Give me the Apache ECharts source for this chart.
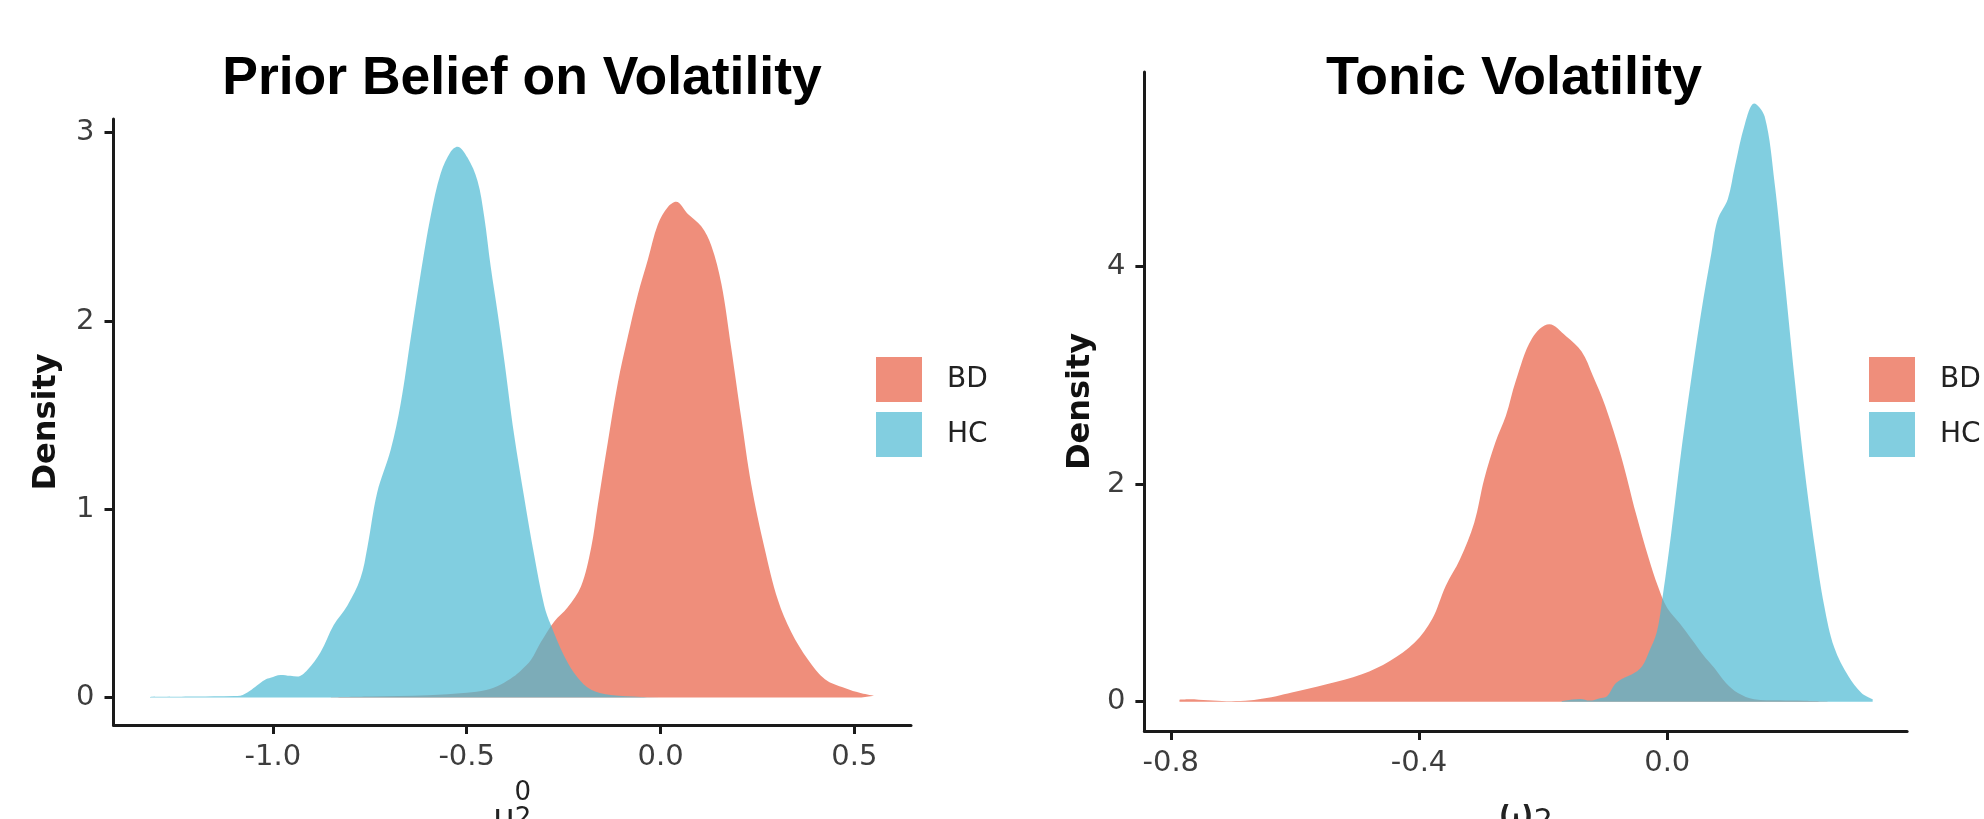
<!DOCTYPE html>
<html>
<head>
<meta charset="utf-8">
<script src="https://cdn.jsdelivr.net/npm/echarts@6/dist/echarts.min.js"></script>
<style>
  html, body { margin: 0; padding: 0; background: #ffffff; }
  #chart { width: 1984px; height: 819px; }
</style>
</head>
<body>
<div id="chart"></div>
<script>
// ---------- Data ----------
const groups = ['BD', 'HC'];
const titles = ['Prior Belief on Volatility', 'Tonic Volatility'];

// Panel 1: Prior Belief on Volatility (mu_2^0)
const priorX_BD = [-0.85, -0.75, -0.6, -0.5, -0.45, -0.412, -0.38, -0.36, -0.334, -0.309, -0.274, -0.24, -0.205, -0.179, -0.162, -0.136, -0.11, -0.0845, -0.0587, -0.0328, -0.007, 0.019, 0.04, 0.0705, 0.105, 0.131, 0.157, 0.182, 0.208, 0.234, 0.268, 0.303, 0.337, 0.381, 0.424, 0.475, 0.518, 0.551];
const priorY_BD = [0.001, 0.005, 0.012, 0.025, 0.04, 0.069, 0.11, 0.144, 0.2, 0.293, 0.404, 0.478, 0.591, 0.796, 1.02, 1.356, 1.673, 1.916, 2.14, 2.326, 2.513, 2.606, 2.634, 2.569, 2.503, 2.4, 2.196, 1.86, 1.487, 1.132, 0.796, 0.516, 0.348, 0.199, 0.097, 0.05, 0.022, 0.009];
const priorX_HC = [-1.317, -1.2, -1.1, -1.084, -1.06, -1.041, -1.02, -1.006, -0.98, -0.955, -0.937, -0.911, -0.877, -0.843, -0.808, -0.774, -0.756, -0.731, -0.696, -0.67, -0.644, -0.619, -0.593, -0.567, -0.541, -0.524, -0.498, -0.472, -0.455, -0.438, -0.42, -0.403, -0.378, -0.352, -0.326, -0.3, -0.283, -0.248, -0.214, -0.179, -0.128, -0.05, 0.0];
const priorY_HC = [0.003, 0.005, 0.008, 0.01, 0.035, 0.064, 0.095, 0.105, 0.12, 0.115, 0.111, 0.146, 0.24, 0.385, 0.488, 0.633, 0.8, 1.088, 1.316, 1.564, 1.915, 2.247, 2.557, 2.785, 2.9, 2.926, 2.868, 2.744, 2.557, 2.288, 2.04, 1.79, 1.4, 1.067, 0.757, 0.488, 0.386, 0.218, 0.106, 0.041, 0.013, 0.003, 0.001];

// Panel 2: Tonic Volatility (omega_2)
const tonicX_BD = [-0.786, -0.77, -0.74, -0.71, -0.68, -0.661, -0.63, -0.605, -0.549, -0.492, -0.447, -0.407, -0.379, -0.357, -0.334, -0.311, -0.295, -0.277, -0.26, -0.244, -0.218, -0.19, -0.163, -0.138, -0.12, -0.1, -0.074, -0.05, -0.03, -0.015, 0.0, 0.02, 0.039, 0.058, 0.076, 0.095, 0.114, 0.14, 0.18, 0.22, 0.26];
const tonicY_BD = [0.018, 0.022, 0.012, 0.004, 0.008, 0.02, 0.05, 0.083, 0.159, 0.251, 0.374, 0.543, 0.757, 1.064, 1.309, 1.646, 2.045, 2.383, 2.628, 2.95, 3.34, 3.47, 3.36, 3.22, 3.0, 2.72, 2.25, 1.72, 1.32, 1.06, 0.86, 0.72, 0.576, 0.43, 0.309, 0.17, 0.08, 0.023, 0.012, 0.008, 0.002];
const tonicX_HC = [-0.17, -0.153, -0.14, -0.125, -0.11, -0.097, -0.085, -0.074, -0.052, -0.04, -0.03, -0.017, -0.009, 0.006, 0.0223, 0.039, 0.055, 0.071, 0.081, 0.0975, 0.109, 0.125, 0.14, 0.157, 0.173, 0.189, 0.205, 0.222, 0.238, 0.253, 0.269, 0.292, 0.313, 0.331];
const tonicY_HC = [0.005, 0.02, 0.025, 0.01, 0.03, 0.05, 0.156, 0.205, 0.267, 0.33, 0.45, 0.635, 0.9, 1.53, 2.29, 2.98, 3.59, 4.12, 4.43, 4.62, 4.92, 5.31, 5.5, 5.38, 4.77, 3.89, 2.98, 2.1, 1.415, 0.88, 0.5, 0.233, 0.08, 0.023];

// Tick values
const priorXTicks = [-1.0, -0.5, 0.0, 0.5];
const priorYTicks = [0, 1, 2, 3];
const tonicXTicks = [-0.8, -0.4, 0.0];
const tonicYTicks = [0, 2, 4];

// ---------- Styling ----------
const BD_FILL = '#EF8E7B';
const HC_BASE = '#4CB9D3';
const HC_LEGEND = '#82CEE0';
const AXIS_COLOR = '#1a1a1a';
const TICK_TEXT = '#3d3d3d';
const CHART_FONT = 'DejaVu Sans';

function zip(xs, ys) { return xs.map((x, i) => [x, ys[i]]); }

function densitySeries(name, xi, yi, data, fill, opacity) {
  return {
    type: 'line', name: name, xAxisIndex: xi, yAxisIndex: yi,
    data: data, smooth: 0.35,
    showSymbol: false, symbol: 'none', silent: true,
    lineStyle: { width: 0, color: fill },
    itemStyle: { color: fill },
    areaStyle: { color: fill, opacity: opacity },
    animation: false
  };
}

function xAxisDef(gi, min, max, ticks, nameObj) {
  return Object.assign({
    type: 'value', gridIndex: gi, min: min, max: max,
    splitLine: { show: false },
    axisLine: { show: true, onZero: false, lineStyle: { color: AXIS_COLOR, width: 3 } },
    axisTick: { show: true, length: 9, customValues: ticks, lineStyle: { color: AXIS_COLOR, width: 3 } },
    axisLabel: { customValues: ticks, formatter: v => Number(v).toFixed(1), margin: 18,
      color: TICK_TEXT, fontSize: 29, fontFamily: CHART_FONT },
    nameLocation: 'middle'
  }, nameObj);
}

function yAxisDef(gi, min, max, ticks, gap) {
  return {
    type: 'value', gridIndex: gi, min: min, max: max,
    splitLine: { show: false },
    axisLine: { show: true, onZero: false, lineStyle: { color: AXIS_COLOR, width: 3 } },
    axisTick: { show: true, length: 9, customValues: ticks, lineStyle: { color: AXIS_COLOR, width: 3 } },
    axisLabel: { customValues: ticks, formatter: v => String(v), margin: 19,
      color: TICK_TEXT, fontSize: 29, fontFamily: CHART_FONT },
    name: 'Density', nameLocation: 'middle', nameRotate: 90, nameGap: gap,
    nameTextStyle: { fontSize: 32, fontWeight: 'bold', fontFamily: CHART_FONT, color: '#111' }
  };
}

function legendDef(left) {
  return {
    orient: 'vertical', left: left, top: 357, padding: 0,
    itemWidth: 46, itemHeight: 45, itemGap: 10, icon: 'rect',
    selectedMode: false,
    data: [
      { name: groups[0], itemStyle: { color: BD_FILL } },
      { name: groups[1], itemStyle: { color: HC_LEGEND } }
    ],
    textStyle: { fontSize: 28, fontFamily: CHART_FONT, color: '#222', padding: [0, 0, 0, 20] }
  };
}

const chart = echarts.init(document.getElementById('chart'), null, { renderer: 'canvas' });

chart.setOption({
  backgroundColor: '#ffffff',
  animation: false,
  title: [
    { text: titles[0], left: 517, top: 47, textAlign: 'center',
      textStyle: { fontFamily: 'Liberation Sans', fontWeight: 'bold', fontSize: 53.5, color: '#000', lineHeight: 54 } },
    { text: titles[1], left: 1509, top: 47, textAlign: 'center',
      textStyle: { fontFamily: 'Liberation Sans', fontWeight: 'bold', fontSize: 54, color: '#000', lineHeight: 54 } }
  ],
  legend: [legendDef(876), legendDef(1869)],
  grid: [
    { left: 113.5, top: 119, width: 797.5, height: 606, outerBoundsMode: 'none', containLabel: false },
    { left: 1144.4, top: 72, width: 762.7, height: 659, outerBoundsMode: 'none', containLabel: false }
  ],
  xAxis: [
    xAxisDef(0, -1.411, 0.646, priorXTicks, {
      name: '{sup|0}\n{mu|μ}{sub|2}', nameGap: 55,
      nameTextStyle: { color: '#222', fontFamily: CHART_FONT,
        rich: {
          sup: { fontSize: 26, lineHeight: 26, fontFamily: CHART_FONT, color: '#222', padding: [0, 0, 0, 21] },
          mu: { fontSize: 34, lineHeight: 26, fontFamily: CHART_FONT, color: '#222' },
          sub: { fontSize: 26, lineHeight: 26, fontFamily: CHART_FONT, color: '#222' }
        } }
    }),
    xAxisDef(1, -0.8425, 0.3865, tonicXTicks, {
      name: '{w|ω}{s|2}', nameGap: 64,
      nameTextStyle: { color: '#222', fontFamily: CHART_FONT,
        rich: {
          w: { fontSize: 42, lineHeight: 42, fontFamily: CHART_FONT, color: '#222' },
          s: { fontSize: 30, lineHeight: 42, fontFamily: CHART_FONT, color: '#222', verticalAlign: 'bottom' }
        } }
    })
  ],
  yAxis: [
    yAxisDef(0, -0.146, 3.073, priorYTicks, 51),
    yAxisDef(1, -0.27, 5.79, tonicYTicks, 48)
  ],
  series: [
    densitySeries(groups[0], 0, 0, zip(priorX_BD, priorY_BD), BD_FILL, 1),
    densitySeries(groups[1], 0, 0, zip(priorX_HC, priorY_HC), HC_BASE, 0.7),
    densitySeries(groups[0], 1, 1, zip(tonicX_BD, tonicY_BD), BD_FILL, 1),
    densitySeries(groups[1], 1, 1, zip(tonicX_HC, tonicY_HC), HC_BASE, 0.7)
  ]
});
</script>
</body>
</html>
